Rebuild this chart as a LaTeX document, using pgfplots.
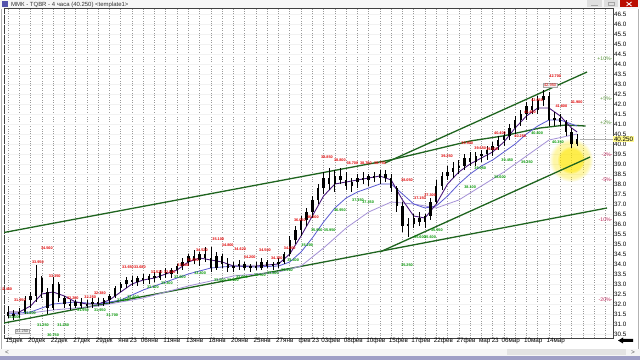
\documentclass[border=0pt]{standalone}
\usepackage{pgfplots}
\pgfplotsset{compat=1.18}
\usepackage{pgfplotstable}
\usepackage{fontspec}
\setmainfont{Liberation Sans}
\usetikzlibrary{fadings}

\definecolor{trend}{RGB}{30,100,30}
\definecolor{maone}{RGB}{75,25,125}
\definecolor{matwo}{RGB}{90,90,210}
\definecolor{mathree}{RGB}{165,145,215}
\definecolor{fracred}{RGB}{225,0,0}
\definecolor{fracgreen}{RGB}{0,150,0}
\definecolor{pctgreen}{RGB}{90,150,60}
\definecolor{pctred}{RGB}{190,40,90}

\pgfplotstableread{
i o h l c
0 31.6 31.9 31.3 31.4
1 31.4 31.7 31.2 31.5
2 31.5 31.8 31.3 31.6
3 31.6 32.4 31.5 32.2
4 32.2 32.6 31.8 32.4
5 32.4 33.95 32.1 33.3
6 33.3 33.4 32.3 32.6
7 32.6 32.8 31.5 31.8
8 31.8 33.35 31.7 33.0
9 33.0 33.1 32.1 32.3
10 32.3 32.4 31.8 32.0
11 32.0 32.2 31.7 31.9
12 31.9 32.2 31.8 32.1
13 32.1 32.3 31.8 31.9
14 31.9 32.2 31.8 32.0
15 32.0 32.3 31.8 32.1
16 32.1 32.3 31.9 32.0
17 32.0 32.3 31.9 32.2
18 32.2 32.5 32.0 32.4
19 32.4 32.9 32.3 32.8
20 32.8 33.1 32.6 33.0
21 33.0 33.35 32.8 33.2
22 33.2 33.4 32.9 33.1
23 33.1 33.4 32.9 33.3
24 33.3 33.5 33.0 33.2
25 33.2 33.5 33.0 33.4
26 33.4 33.6 33.1 33.3
27 33.3 33.7 33.2 33.6
28 33.6 33.8 33.3 33.5
29 33.5 33.8 33.3 33.7
30 33.7 34.0 33.5 33.9
31 33.9 34.3 33.7 34.1
32 34.1 34.5 33.9 34.4
33 34.4 34.7 34.0 34.2
34 34.2 34.6 33.9 34.5
35 34.5 34.85 34.1 34.3
36 34.3 34.85 33.6 33.8
37 33.8 34.6 33.7 34.4
38 34.4 34.5 33.8 34.0
39 34.0 34.3 33.6 33.8
40 33.8 34.1 33.6 33.9
41 33.9 34.2 33.7 34.0
42 34.0 34.1 33.7 33.8
43 33.8 34.0 33.6 33.9
44 33.9 34.1 33.7 33.8
45 33.8 34.3 33.7 34.1
46 34.1 34.2 33.8 33.9
47 33.9 34.1 33.7 34.0
48 34.0 34.3 33.8 34.1
49 34.1 34.6 34.0 34.5
50 34.5 35.4 34.4 35.2
51 35.2 35.9 35.0 35.7
52 35.7 36.4 35.4 36.2
53 36.2 36.8 35.9 36.6
54 36.6 37.4 36.3 37.2
55 37.2 38.0 37.0 37.8
56 37.8 38.6 37.5 38.3
57 38.3 38.8 37.7 38.0
58 38.0 38.7 37.6 38.4
59 38.4 38.8 38.0 38.2
60 38.2 38.6 37.7 37.9
61 37.9 38.3 37.6 38.1
62 38.1 38.5 37.8 38.3
63 38.3 38.6 38.0 38.2
64 38.2 38.5 37.9 38.4
65 38.4 38.6 38.1 38.3
66 38.3 38.7 38.0 38.5
67 38.5 38.7 38.1 38.3
68 38.3 38.5 37.6 37.8
69 37.8 37.9 36.6 36.9
70 36.9 37.1 35.6 35.9
71 35.9 36.3 35.35 36.0
72 36.0 36.5 35.8 36.3
73 36.3 36.6 35.9 36.1
74 36.1 36.5 35.8 36.4
75 36.4 37.3 36.2 37.1
76 37.1 38.2 37.0 37.9
77 37.9 38.6 37.7 38.4
78 38.4 38.9 38.2 38.6
79 38.6 39.1 38.3 38.8
80 38.8 39.2 38.5 38.9
81 38.9 39.5 38.7 39.3
82 39.3 39.6 38.9 39.1
83 39.1 39.6 38.9 39.4
84 39.4 39.7 39.1 39.5
85 39.5 39.9 39.2 39.7
86 39.7 40.1 39.4 39.9
87 39.9 40.4 39.7 40.2
88 40.2 40.6 39.9 40.4
89 40.4 41.0 40.2 40.8
90 40.8 41.4 40.5 41.2
91 41.2 41.7 40.9 41.5
92 41.5 42.1 41.2 41.9
93 41.9 42.3 41.5 41.7
94 41.7 42.4 41.5 42.2
95 42.2 42.7 41.9 42.4
96 42.4 42.6 40.9 41.2
97 41.2 41.6 40.9 41.3
98 41.3 41.5 40.9 41.1
99 41.1 41.2 40.4 40.6
100 40.6 40.8 39.8 40.0
101 40.0 40.5 39.9 40.25
}\candles

\pgfplotstableread{
x y
0 31.6
2 31.6
4 31.9
6 32.5
8 32.6
10 32.4
12 32.1
14 32.0
16 32.0
18 32.2
20 32.6
22 33.0
24 33.2
26 33.3
28 33.5
30 33.7
32 34.1
34 34.3
36 34.2
38 34.1
40 33.9
42 33.9
44 33.9
46 33.95
48 34.0
50 34.5
52 35.4
54 36.4
56 37.4
58 38.0
60 38.1
62 38.2
64 38.3
66 38.4
68 38.2
70 37.2
72 36.4
74 36.3
76 37.0
78 38.0
80 38.6
82 39.0
84 39.3
86 39.6
88 40.1
90 40.8
92 41.4
94 41.8
96 41.8
98 41.4
100 40.8
101 40.6
}\maone

\pgfplotstableread{
x y
0 31.5
4 31.6
8 32.0
12 32.1
16 32.0
20 32.2
24 32.7
28 33.1
32 33.5
36 33.8
40 33.9
44 33.85
48 33.9
50 34.1
52 34.6
54 35.3
56 36.1
58 36.8
60 37.3
62 37.6
64 37.8
66 38.0
68 38.0
70 37.5
72 37.0
74 36.8
76 36.9
78 37.4
80 38.0
82 38.5
84 38.9
86 39.2
88 39.6
90 40.0
92 40.5
94 40.9
96 41.2
98 41.2
100 41.0
101 40.9
}\matwo

\pgfplotstableread{
x y
0 31.4
8 31.7
16 31.9
24 32.3
32 32.9
40 33.4
48 33.6
52 33.9
56 34.8
60 35.8
64 36.6
68 37.1
72 37.0
76 36.8
80 37.2
84 37.9
88 38.6
92 39.4
96 40.2
101 40.5
}\mathree

\pgfplotstableread{
x y t
-0.3 32.75 32.450
2.1 32.2 31.950
5.3 34.1 33.950
6.9 34.8 34.560
8.3 33.4 33.350
11.5 32.3 32.200
14.6 32.35 32.250
16.3 32.55 32.380
21.3 33.85 33.650
23.4 33.85 33.680
26.4 33.6 33.520
28.7 33.6 33.540
31.1 33.95 33.800
32.8 34.2 34.050
34.4 34.7 34.520
37.3 35.25 35.100
39.0 34.95 34.800
41.2 34.75 34.620
42.9 34.35 34.200
45.6 34.7 34.500
47.7 34.3 34.150
50.0 34.8 34.600
51.8 36.2 36.050
54.1 36.35 36.200
56.6 39.35 38.850
58.9 39.2 38.800
61.1 39.05 38.700
63.5 39.05 38.700
66.0 39.05 38.750
70.8 38.2 38.050
73.1 37.3 37.150
74.9 37.45 37.300
77.9 39.4 39.250
81.5 40.05 39.900
83.8 39.8 39.650
85.9 39.75 39.600
87.3 40.55 40.400
90.9 40.4 40.250
92.6 41.6 41.450
93.9 42.2 42.050
97.1 43.4 42.700
98.2 41.9 41.800
100.9 42.1 41.900
}\redlabels

\pgfplotstableread{
x y t
1.2 31.35 31.600
3.9 31.55 31.800
6.2 30.95 31.250
8.0 30.45 30.750
9.8 30.95 31.250
13.3 31.7 31.950
16.3 31.7 31.950
18.5 31.45 31.700
20.4 32.2 32.450
22.2 32.35 32.600
25.7 32.85 33.100
28.2 33.05 33.300
30.5 33.35 33.600
34.1 33.55 33.800
37.6 33.2 33.500
39.9 33.2 33.500
41.5 33.35 33.600
44.7 33.45 33.700
47.0 33.55 33.800
49.5 33.7 33.950
50.6 34.2 34.400
53.1 34.95 35.200
54.8 35.7 35.950
57.1 35.7 35.950
58.9 36.7 36.950
62.1 37.2 37.450
63.9 37.1 37.350
70.8 33.95 35.250
73.1 35.35 35.600
74.9 35.35 35.600
76.1 35.7 35.950
82.0 37.85 38.100
83.8 38.8 39.050
87.3 38.35 38.600
88.6 39.2 39.450
92.1 39.1 39.350
93.9 40.55 40.800
97.6 40.1 40.350
}\greenlabels

\begin{document}
\begin{tikzpicture}[font=\fontsize{6.5}{7}\selectfont]
\useasboundingbox (0,0) rectangle (640bp,360bp);
\fill[white] (0,0) rectangle (640bp,360bp);
% title bar
\fill[gray!7] (0,351bp) rectangle (640bp,360bp);
\fill[blue!35!gray] (2bp,353bp) rectangle (8bp,359bp);
\node[anchor=west, inner sep=0pt, font=\fontsize{6}{7}\selectfont, text=black!80] at (11bp,355.5bp) {ММК - TQBR - 4 часа (40.250) <template1>};
\fill[gray!25] (587bp,352.5bp) rectangle (602bp,359.5bp);
\fill[gray!25] (604bp,352.5bp) rectangle (618bp,359.5bp);
\draw[gray!70, line width=0.5bp] (591bp,354.5bp) -- (598bp,354.5bp);
\draw[gray!70, line width=0.5bp] (608bp,354.5bp) rectangle (614bp,358bp);
\fill[red!70!black!90!orange] (620bp,352.5bp) rectangle (638bp,359.5bp);
\draw[white, line width=0.8bp] (626.5bp,354bp) -- (631.5bp,358bp) (626.5bp,358bp) -- (631.5bp,354bp);
% scroll bar and bottom band
\fill[gray!8] (0,4bp) rectangle (640bp,11bp);
\fill[gray!22] (507bp,4.5bp) rectangle (626bp,10.5bp);
\node[inner sep=0pt, text=gray!70!black] at (7bp,7.5bp) {<};
\node[inner sep=0pt, text=gray!70!black] at (633bp,7.5bp) {>};
\fill[blue!25!gray!60] (0,0) rectangle (640bp,4bp);
\fill[black] (618bp,19.5bp) -- (623bp,22.5bp) -- (623bp,21bp) -- (633bp,21bp) -- (633bp,18bp) -- (623bp,18bp) -- (623bp,16.5bp) -- cycle;

\begin{axis}[
  at={(4bp,22bp)}, anchor=south west,
  width=609bp, height=330bp, scale only axis,
  xmin=-0.71, xmax=107.36, ymin=30.3, ymax=46.8,
  axis line style={black!75, line width=0.6bp},
  xtick={0,4,...,96},
  xticklabels={15дек,20дек,22дек,27дек,29дек,янв'23,06янв,11янв,13янв,18янв,20янв,25янв,27янв,фев'23,03фев,08фев,10фев,15фев,17фев,22фев,27фев,мар'23,06мар,10мар,14мар},
  minor xtick={2,4,...,106},
  xmajorgrids=true, xminorgrids=true,
  major grid style={gray!80, dash pattern=on 0.7bp off 1.7bp, line width=0.6bp},
  minor grid style={gray!80, dash pattern=on 0.7bp off 1.7bp, line width=0.6bp},
  xticklabel style={anchor=north west, xshift=-3bp, yshift=0.5bp, inner sep=0.5bp, font=\fontsize{6.3}{7}\selectfont},
  ytick distance=0.5,
  yticklabel pos=right,
  /pgf/number format/assume math mode=true,
  yticklabel style={font=\fontsize{6.3}{7}\selectfont, inner sep=1bp, /pgf/number format/fixed, /pgf/number format/fixed zerofill, /pgf/number format/precision=1},
  tick style={draw=none},
  clip=true,
]
% faint horizontal grid
\pgfplotsinvokeforeach{31,32,...,46}{
  \draw[gray!10, line width=0.5bp] (axis cs:-1,#1) -- (axis cs:108,#1);
}
\pgfplotsinvokeforeach{30.5,31.5,...,46.5}{
  \draw[gray!10, line width=0.5bp] (axis cs:-1,#1) -- (axis cs:108,#1);
}
% cursor highlight
\fill[yellow!90!orange, opacity=0.35, path fading=circle with fuzzy edge 20 percent] (axis cs:99.9,39.2) circle (22bp);
\fill[yellow!90!orange, opacity=0.55, path fading=circle with fuzzy edge 20 percent] (axis cs:99.9,39.2) circle (14bp);

% trend lines
\addplot[trend, line width=1.3bp] coordinates {(-0.71,35.575) (67.8,39.2) (73.1,39.55) (82,40.15) (87.8,40.4) (94.4,40.8) (99,40.95) (102.5,40.9)};
\addplot[trend, line width=1.3bp] coordinates {(66.9,39.05) (102.75,43.6)};
\addplot[trend, line width=1.3bp] coordinates {(-0.71,31.05) (106.3,36.8)};
\addplot[trend, line width=1.3bp] coordinates {(66.0,34.6) (103.3,39.35)};

% moving averages
\addplot[mathree, line width=0.8bp] table[x=x,y=y] {\mathree};
\addplot[matwo, line width=0.8bp] table[x=x,y=y] {\matwo};
\addplot[maone, line width=0.9bp] table[x=x,y=y] {\maone};

% last price line
\draw[gray!60, line width=0.5bp] (axis cs:101.5,40.25) -- (axis cs:107.4,40.25);

% candles: wicks
\addplot[draw=none, mark=none, forget plot,
  error bars/.cd, y dir=both, y explicit, error mark=none,
  error bar style={draw=black, solid, line width=0.7bp}]
  table[x=i, y=c, y error plus expr={\thisrow{h}-\thisrow{c}}, y error minus expr={\thisrow{c}-\thisrow{l}}] {\candles};
% candles: bodies
\addplot[draw=none, mark=none, forget plot,
  error bars/.cd, y dir=both, y explicit, error mark=none,
  error bar style={draw=black, solid, line width=2.4bp}]
  table[x=i, y expr={(\thisrow{o}+\thisrow{c})/2}, y error expr={max(abs(\thisrow{c}-\thisrow{o})/2,0.04)}] {\candles};

% fractal labels
\addplot[draw=none, mark=none, nodes near coords, point meta=explicit symbolic,
  every node near coord/.style={anchor=center, inner sep=0pt, text=fracred, font=\fontsize{3.8}{4}\selectfont\bfseries}]
  table[x=x, y=y, meta=t] {\redlabels};
\addplot[draw=none, mark=none, nodes near coords, point meta=explicit symbolic,
  every node near coord/.style={anchor=center, inner sep=0pt, text=fracgreen, font=\fontsize{3.8}{4}\selectfont\bfseries}]
  table[x=x, y=y, meta=t] {\greenlabels};

\node[draw=gray!70, fill=gray!12, inner sep=0.6bp, text=black!70, font=\fontsize{4}{4}\selectfont] at (axis cs:2.5,30.65) {31.250};
\node[draw=gray!70, fill=gray!12, inner sep=0.6bp, text=fracred, font=\fontsize{4}{4}\selectfont] at (axis cs:96.2,42.95) {42.950};

% percent levels
\node[anchor=east, inner sep=0pt, text=pctgreen, font=\fontsize{5.2}{6}\selectfont] at (axis cs:107.3,44.275) {+10\%-};
\node[anchor=east, inner sep=0pt, text=pctgreen, font=\fontsize{5.2}{6}\selectfont] at (axis cs:107.3,42.2625) {+5\%-};
\node[anchor=east, inner sep=0pt, text=pctgreen, font=\fontsize{5.2}{6}\selectfont] at (axis cs:107.3,41.055) {+2\%-};
\node[anchor=east, inner sep=0pt, text=pctred, font=\fontsize{5.2}{6}\selectfont] at (axis cs:107.3,39.445) {-2\%-};
\node[anchor=east, inner sep=0pt, text=pctred, font=\fontsize{5.2}{6}\selectfont] at (axis cs:107.3,38.2375) {-5\%-};
\node[anchor=east, inner sep=0pt, text=pctred, font=\fontsize{5.2}{6}\selectfont] at (axis cs:107.3,36.225) {-10\%-};
\node[anchor=east, inner sep=0pt, text=pctred, font=\fontsize{5.2}{6}\selectfont] at (axis cs:107.3,32.2) {-20\%-};
\end{axis}
% current price box on the right axis
\node[anchor=west, fill=yellow!45, inner sep=0.8bp, font=\fontsize{6.3}{7}\selectfont] at (613bp,221bp) {40.250};
\draw[gray!60, line width=0.6bp] (638.5bp,11bp) -- (638.5bp,351bp);
\draw[gray!60, line width=0.6bp] (1bp,11bp) -- (1bp,351bp);
\end{tikzpicture}
\end{document}
